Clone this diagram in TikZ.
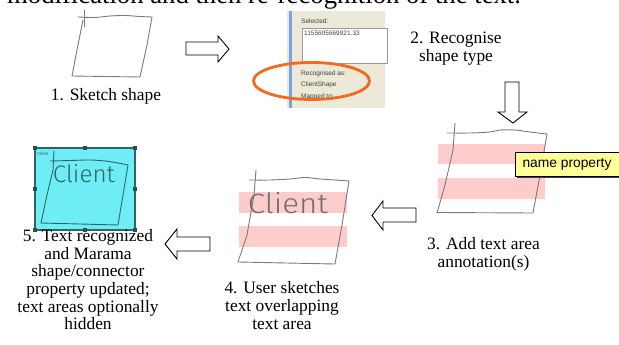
\documentclass[tikz,border=0pt]{standalone}
\usepackage{fontspec}
\setmainfont{Liberation Serif}
\newfontfamily\uisans{Liberation Sans}
\newfontfamily\handfont{Fira Sans Light}
\definecolor{beige}{HTML}{ECE9D8}
\definecolor{orng}{HTML}{F26B1D}
\definecolor{pinkband}{HTML}{FFCCCC}
\definecolor{sketchgray}{HTML}{7A7A7A}
\definecolor{cyanfill}{HTML}{6EEEF4}
\definecolor{tealline}{HTML}{2F6468}
\definecolor{noteyellow}{HTML}{FFFF99}
\definecolor{winblue}{HTML}{7BA2E7}
\begin{document}
\begin{tikzpicture}[x=1pt,y=-1pt,
  label/.style={inner sep=0pt,anchor=north,align=center,font=\fontsize{17.4}{18.3}\selectfont},
  sketch/.style={draw=sketchgray,line width=0.9pt,line join=round,line cap=round},
  tealsketch/.style={draw=tealline,line width=0.9pt,line join=round,line cap=round},
  blockarrow/.style={draw=black,fill=white,line width=0.9pt,line join=miter},
  band/.style={fill=pinkband,draw=none},
  uitext/.style={inner sep=0pt,anchor=west,font=\uisans\fontsize{6.5}{7}\selectfont,text=black!75},
  handle/.style={fill=tealline!80!black,draw=none}]
\useasboundingbox (0,0) rectangle (619,345);
\clip (0,0) rectangle (619,345);

% title line (cut at top)
\node[inner sep=0pt,anchor=base west,font=\fontsize{26.7}{30}\selectfont] (title) at (7,4) {modification and then re-recognition of the text.};

% ---------- 1. sketch shape ----------
\draw[sketch] (84,10) -- (84,27);
\draw[sketch] plot[smooth] coordinates {(78,17) (95,17.5) (110,16) (125,15.5) (140,16.5) (152,17)};
\draw[sketch] (152,17) -- (147,45) -- (140,77) -- (72,76) -- (77,50) -- (83,20);
\node[label] (l1) at (106,100-12.8) {\strut 1. Sketch shape};

% arrow 1 -> 2
\draw[blockarrow] (186,42) -- (218,42) -- (218,36) -- (229,49) -- (218,62) -- (218,55) -- (186,55) -- cycle;
\coordinate (a1) at (207,49);

% ---------- 2. screenshot ----------
\fill[beige] (287,11) rectangle (385,108);
\draw[winblue,line width=2.2pt] (290.5,11) -- (290.5,108);
\node[uitext] (sel) at (301,21) {Selected:};
\draw[fill=white,draw=black!40,line width=0.5pt] (302,28) rectangle (387,63);
\node[uitext] (selval) at (304,33.5) {1155605669921.33};
\node[uitext] (recas) at (301,74) {Recognised as:};
\node[uitext] (cshape) at (301,85) {ClientShape};
\node[uitext] (mapto) at (301,96.5) {Mapped to:};
\draw[orng,line width=2.8pt] (311.5,81) ellipse [x radius=58,y radius=18.5];
\node[label] (l2) at (456,43-12.8) {\strut 2. Recognise\\shape type};

% arrow down
\draw[blockarrow] (505,82) -- (519,82) -- (519,112) -- (527,112) -- (513,123) -- (498,112) -- (505,112) -- cycle;
\coordinate (a2) at (512,100);

% ---------- 3. add text area ----------
\fill[band] (438,144) rectangle (545,164);
\fill[band] (438,178) rectangle (545,199);
\draw[sketch] (455,123) -- (453,150) -- (445,185) -- (437,213);
\draw[sketch] plot[smooth] coordinates {(447,133) (470,133) (490,132) (500,130) (515,130) (530,132) (547,134)};
\draw[sketch] (547,134) -- (540,175) -- (533,213) -- (437,212.5);
\draw[fill=black!75,draw=none] (517,154) rectangle (621,178);
\node[draw=black,fill=noteyellow,line width=0.8pt,minimum width=104pt,minimum height=24pt,inner sep=0pt,
  font=\uisans\fontsize{13.8}{15}\selectfont] (np) at (567,164) {name property};
\node[label] (l3) at (483.5,249-12.8) {\strut 3. Add text area\\annotation(s)};

% arrow 3 -> 4
\draw[blockarrow] (416,208) -- (383,208) -- (383,201) -- (372,215.5) -- (383,230) -- (383,222) -- (416,222) -- cycle;
\coordinate (a3) at (395,215);

% ---------- 4. user sketches text ----------
\fill[band] (239,192) rectangle (347,213);
\fill[band] (239,226) rectangle (347,247);
\draw[sketch] (256,170) -- (254,195) -- (247,235) -- (238,262);
\draw[sketch] plot[smooth] coordinates {(249,180) (270,180) (290,179) (305,177.5) (320,179) (335,180) (349,181)};
\draw[sketch] (349,181) -- (342,225) -- (335,264) -- (238,262);
\node[inner sep=0pt,text=sketchgray!90!black] (hw4) at (288,203.5) {\resizebox{80pt}{21pt}{\handfont Client}};
\node[label] (l4) at (282,293-12.8) {\strut 4. User sketches\\text overlapping\\text area};

% arrow 4 -> 5
\draw[blockarrow] (210,237) -- (177,237) -- (177,229) -- (165,244) -- (177,259) -- (177,251) -- (210,251) -- cycle;
\coordinate (a4) at (190,244);

% ---------- 5. recognised shape ----------
\draw[fill=cyanfill,draw=tealline,line width=1.6pt] (35,148) rectangle (135,230);
\foreach \hx/\hy in {35/148,85/148,135/148,35/189,135/189,35/230,85/230,135/230}
  \fill[handle] (\hx-2,\hy-2) rectangle (\hx+2,\hy+2);
\node[inner sep=0pt,anchor=west,font=\uisans\fontsize{4.5}{5}\selectfont,text=tealline] (tiny) at (37,154) {Client};
\draw[tealsketch] (54,151) -- (53,170) -- (47,195) -- (41,223);
\draw[tealsketch] plot[smooth] coordinates {(50,161) (70,160.5) (90,160) (105,161) (118,163) (128,165)};
\draw[tealsketch] (128,165) -- (123,195) -- (118,225) -- (41,223);
\node[inner sep=0pt,text=tealline] (hw5) at (84,174) {\resizebox{62pt}{18pt}{\handfont Client}};
\node[label,font=\fontsize{17.4}{17.6}\selectfont] (l5) at (88,241.5-12.3) {\strut 5. Text recognized\\and Marama\\shape/connector\\property updated;\\text areas optionally\\hidden};
\end{tikzpicture}
\end{document}
